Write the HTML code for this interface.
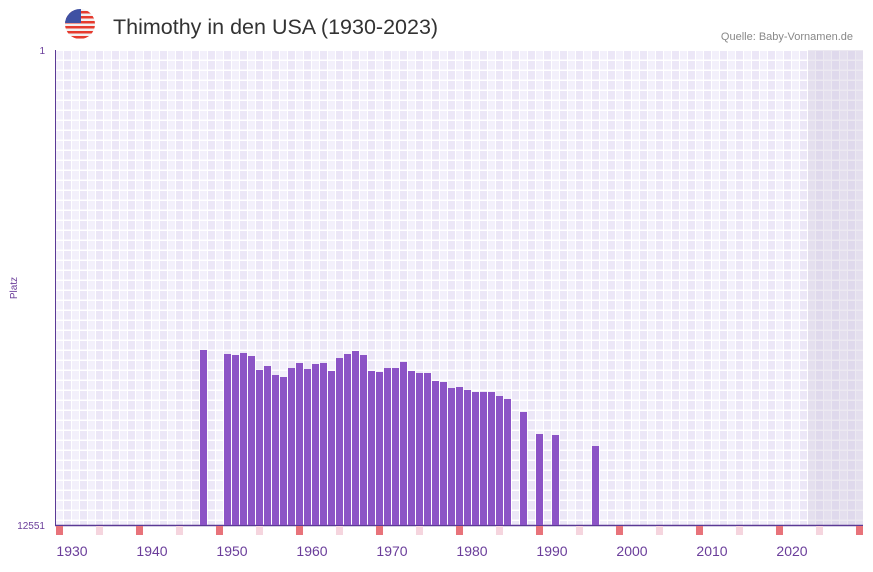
<!DOCTYPE html>
<html><head><meta charset="utf-8"><style>
body{margin:0;background:#fff;width:873px;height:567px;overflow:hidden;font-family:"Liberation Sans",sans-serif}
</style></head><body>
<svg width="873" height="567" xmlns="http://www.w3.org/2000/svg" font-family="Liberation Sans, sans-serif">
<defs>
<pattern id="g" x="55" y="50" width="16" height="10" patternUnits="userSpaceOnUse">
<rect width="16" height="10" fill="#ffffff"/>
<rect x="1" y="1" width="7" height="8.5" fill="#f3f0fb"/>
<rect x="9" y="1" width="7" height="8.5" fill="#ece7f7"/>
</pattern>
<clipPath id="c"><circle cx="80" cy="24" r="15"/></clipPath>
</defs>
<g clip-path="url(#c)">
<rect x="64" y="8" width="32" height="32" fill="#f2f2f2"/>
<rect x="64" y="11" width="32" height="2.5" fill="#e63b2e"/>
<rect x="64" y="16" width="32" height="2.5" fill="#e63b2e"/>
<rect x="64" y="21" width="32" height="2.5" fill="#e63b2e"/>
<rect x="64" y="26" width="32" height="2.5" fill="#e63b2e"/>
<rect x="64" y="31" width="32" height="2.5" fill="#e63b2e"/>
<rect x="64" y="36" width="32" height="2.5" fill="#e63b2e"/>
<rect x="64" y="8" width="17" height="15" fill="#3f51a3"/>
</g>
<text x="113" y="34" font-size="21.5" fill="#333">Thimothy in den USA (1930-2023)</text>
<text x="853" y="40" font-size="11" fill="#888" text-anchor="end">Quelle: Baby-Vornamen.de</text>
<rect x="55" y="50" width="808" height="475" fill="url(#g)"/>
<rect x="808" y="50" width="55" height="475" fill="#c8bfd8" opacity="0.35"/>
<line x1="55.5" y1="50" x2="55.5" y2="525" stroke="#5b3a95" stroke-width="1"/>
<line x1="55" y1="525.5" x2="863" y2="525.5" stroke="#5b3a95" stroke-width="1.5"/>
<text x="45" y="54" font-size="10" fill="#6a3d9a" text-anchor="end">1</text>
<text x="45" y="529" font-size="10" fill="#6a3d9a" text-anchor="end">12551</text>
<text transform="translate(17,288) rotate(-90)" font-size="10" fill="#6a3d9a" text-anchor="middle">Platz</text>
<g font-size="14" fill="#6a3d9a" text-anchor="middle">
<text x="72" y="556">1930</text><text x="152" y="556">1940</text><text x="232" y="556">1950</text>
<text x="312" y="556">1960</text><text x="392" y="556">1970</text><text x="472" y="556">1980</text>
<text x="552" y="556">1990</text><text x="632" y="556">2000</text><text x="712" y="556">2010</text>
<text x="792" y="556">2020</text>
</g>
<g fill="#8c54c6">
<rect x="200" y="350" width="7" height="175"/>
<rect x="224" y="354" width="7" height="171"/><rect x="232" y="355" width="7" height="170"/>
<rect x="240" y="353" width="7" height="172"/><rect x="248" y="356" width="7" height="169"/>
<rect x="256" y="370" width="7" height="155"/><rect x="264" y="366" width="7" height="159"/>
<rect x="272" y="375" width="7" height="150"/><rect x="280" y="377" width="7" height="148"/>
<rect x="288" y="368" width="7" height="157"/><rect x="296" y="363" width="7" height="162"/>
<rect x="304" y="369" width="7" height="156"/><rect x="312" y="364" width="7" height="161"/>
<rect x="320" y="363" width="7" height="162"/><rect x="328" y="371" width="7" height="154"/>
<rect x="336" y="358" width="7" height="167"/><rect x="344" y="354" width="7" height="171"/>
<rect x="352" y="351" width="7" height="174"/><rect x="360" y="355" width="7" height="170"/>
<rect x="368" y="371" width="7" height="154"/><rect x="376" y="372" width="7" height="153"/>
<rect x="384" y="368" width="7" height="157"/><rect x="392" y="368" width="7" height="157"/>
<rect x="400" y="362" width="7" height="163"/><rect x="408" y="371" width="7" height="154"/>
<rect x="416" y="373" width="7" height="152"/><rect x="424" y="373" width="7" height="152"/>
<rect x="432" y="381" width="7" height="144"/><rect x="440" y="382" width="7" height="143"/>
<rect x="448" y="388" width="7" height="137"/><rect x="456" y="387" width="7" height="138"/>
<rect x="464" y="390" width="7" height="135"/><rect x="472" y="392" width="7" height="133"/>
<rect x="480" y="392" width="7" height="133"/><rect x="488" y="392" width="7" height="133"/>
<rect x="496" y="396" width="7" height="129"/><rect x="504" y="399" width="7" height="126"/>
<rect x="520" y="412" width="7" height="113"/><rect x="536" y="434" width="7" height="91"/>
<rect x="552" y="435" width="7" height="90"/><rect x="592" y="446" width="7" height="79"/>
</g>
<g>
<rect x="56" y="526" width="7" height="9" fill="#e8737a"/><rect x="96" y="526" width="7" height="9" fill="#f5d5de"/>
<rect x="136" y="526" width="7" height="9" fill="#e8737a"/><rect x="176" y="526" width="7" height="9" fill="#f5d5de"/>
<rect x="216" y="526" width="7" height="9" fill="#e8737a"/><rect x="256" y="526" width="7" height="9" fill="#f5d5de"/>
<rect x="296" y="526" width="7" height="9" fill="#e8737a"/><rect x="336" y="526" width="7" height="9" fill="#f5d5de"/>
<rect x="376" y="526" width="7" height="9" fill="#e8737a"/><rect x="416" y="526" width="7" height="9" fill="#f5d5de"/>
<rect x="456" y="526" width="7" height="9" fill="#e8737a"/><rect x="496" y="526" width="7" height="9" fill="#f5d5de"/>
<rect x="536" y="526" width="7" height="9" fill="#e8737a"/><rect x="576" y="526" width="7" height="9" fill="#f5d5de"/>
<rect x="616" y="526" width="7" height="9" fill="#e8737a"/><rect x="656" y="526" width="7" height="9" fill="#f5d5de"/>
<rect x="696" y="526" width="7" height="9" fill="#e8737a"/><rect x="736" y="526" width="7" height="9" fill="#f5d5de"/>
<rect x="776" y="526" width="7" height="9" fill="#e8737a"/><rect x="816" y="526" width="7" height="9" fill="#f5d5de"/>
<rect x="856" y="526" width="7" height="9" fill="#e8737a"/>
</g>
</svg>
</body></html>
